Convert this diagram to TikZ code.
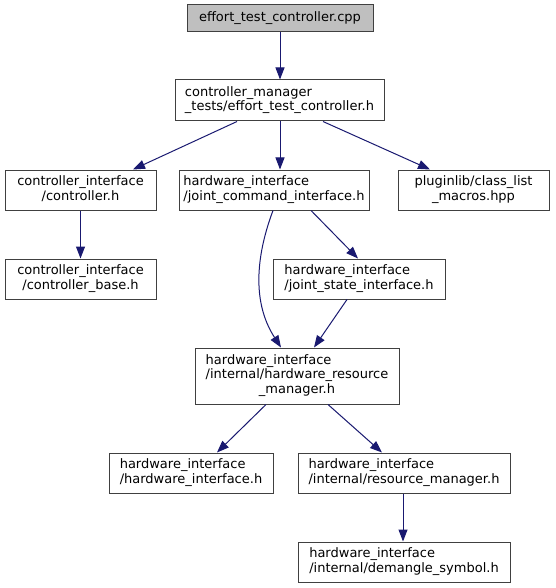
\documentclass[tikz,border=0pt]{standalone}
\usepackage{fontspec}
\setmainfont{DejaVu Sans}
\usetikzlibrary{arrows.meta,calc}
\definecolor{edgecol}{HTML}{191970}
\definecolor{bordcol}{HTML}{404040}
\definecolor{topfill}{HTML}{BFBFBF}
\newcommand{\twolbl}[2]{\begin{tabular}{@{}l@{}}#1\\\multicolumn{1}{@{}c@{}}{#2}\end{tabular}}
\newcommand{\threelbl}[3]{\begin{tabular}{@{}l@{}}#1\\#2\\\multicolumn{1}{@{}c@{}}{#3}\end{tabular}}
\begin{document}
\begin{tikzpicture}[x=1pt,y=-1pt,
  box/.style={draw=bordcol, line width=1pt, rectangle, inner sep=0pt, fill=white,
    font=\fontsize{13}{14.5}\selectfont, minimum width=#1},
  box/.default=150pt,
  dep/.style={draw=edgecol, line width=1pt, -{Triangle[length=12pt,width=9pt]}}]
\useasboundingbox (0,0) rectangle (555,588);
\node[box=186pt, fill=topfill, minimum height=27pt] (A) at (280,18.5) {effort\_test\_controller.cpp};
\node[box=209pt, minimum height=41pt] (B) at (279.5,100.5) {\twolbl{controller\_manager}{\_tests/effort\_test\_controller.h}};
\node[box=151pt, minimum height=40pt] (C) at (80.5,190) {\twolbl{controller\_interface}{/controller.h}};
\node[box=190pt, minimum height=40pt] (D) at (274,190) {\twolbl{hardware\_interface}{/joint\_command\_interface.h}};
\node[box=151pt, minimum height=40pt] (E) at (473.5,190) {\twolbl{pluginlib/class\_list}{\_macros.hpp}};
\node[box=151pt, minimum height=40pt] (F) at (80.5,279) {\twolbl{controller\_interface}{/controller\_base.h}};
\node[box=172pt, minimum height=40pt] (G) at (359,279) {\twolbl{hardware\_interface}{/joint\_state\_interface.h}};
\node[box=204pt, minimum height=56pt] (H) at (297,376) {\threelbl{hardware\_interface}{/internal/hardware\_resource}{\_manager.h}};
\node[box=164pt, minimum height=40pt] (I) at (191,473) {\twolbl{hardware\_interface}{/hardware\_interface.h}};
\node[box=212pt, minimum height=40pt] (J) at (404,473) {\twolbl{hardware\_interface}{/internal/resource\_manager.h}};
\node[box=212pt, minimum height=40pt] (K) at (404,562) {\twolbl{hardware\_interface}{/internal/demangle\_symbol.h}};
\draw[dep] (A.south) -- (A.south |- B.north);
\draw[dep] ($(B.south)+(-42.5,0)$) -- ($(C.north)+(52.5,0)$);
\draw[dep] ($(B.south)+(0.5,0)$) -- ($(D.north)+(6,0)$);
\draw[dep] ($(B.south)+(43.5,0)$) -- ($(E.north)+(-43.5,0)$);
\draw[dep] (C.south) -- (F.north);
\draw[dep] ($(D.south)+(-1,0)$) .. controls ($(D.south)+(-16,40)$) and ($(H.north)+(-47,-48)$) .. ($(H.north)+(-16,0)$);
\draw[dep] ($(D.south)+(37,0)$) -- ($(G.north)+(-1,0)$);
\draw[dep] ($(G.south)+(-12,0)$) -- ($(H.north)+(17,0)$);
\draw[dep] ($(H.south)+(-31,0)$) -- ($(I.north)+(26,0)$);
\draw[dep] ($(H.south)+(31,0)$) -- ($(J.north)+(-22,0)$);
\draw[dep] ($(J.south)+(-1,0)$) -- ($(K.north)+(-1,0)$);
\end{tikzpicture}
\end{document}
